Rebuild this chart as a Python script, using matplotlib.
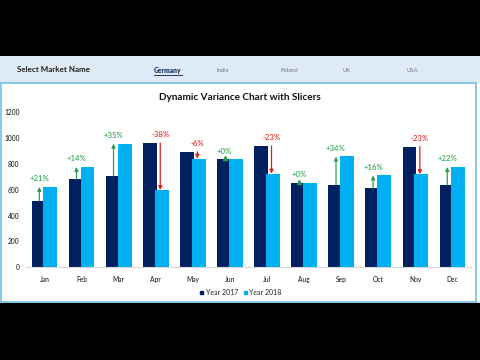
import matplotlib
matplotlib.use("Agg")
import matplotlib.pyplot as plt
from matplotlib.patches import Rectangle, Patch

plt.rcParams['font.family'] = ['Lato', 'DejaVu Sans']

months = ["Jan", "Feb", "Mar", "Apr", "May", "Jun", "Jul", "Aug", "Sep", "Oct", "Nov", "Dec"]
year2017 = [513, 681, 707, 962, 893, 835, 939, 655, 640, 612, 934, 637]
year2018 = [622, 777, 957, 598, 841, 835, 725, 655, 858, 711, 721, 777]
markets = ["Germany", "India", "Poland", "UK", "USA"]
selected_market = "Germany"
yticks = [0, 200, 400, 600, 800, 1000, 1200]

C17 = "#002060"
C18 = "#00B0F0"
GREEN = "#2BA050"
RED = "#E0201B"

W, H = 480, 360
fig = plt.figure(figsize=(4.8, 3.6), dpi=100)
fig.patch.set_facecolor("white")

def fx(px):
    return px / W

def fy(py):
    return 1 - py / H

# black letterbox
fig.patches.append(Rectangle((0, fy(56)), 1, 1 - fy(56), transform=fig.transFigure, color="black", zorder=-10))
fig.patches.append(Rectangle((0, 0), 1, fy(302.5), transform=fig.transFigure, color="black", zorder=-10))
# header band
fig.patches.append(Rectangle((0, fy(82.5)), 1, fy(56) - fy(82.5), transform=fig.transFigure,
                             facecolor="#DEEBF7", edgecolor="none", zorder=-10))
# chart border
fig.patches.append(Rectangle((fx(1), fy(302)), fx(475), fy(83) - fy(302), transform=fig.transFigure,
                             facecolor="white", edgecolor="#7CC3E8", lw=1.3, zorder=-9))

# header texts
fig.text(fx(17), fy(69), "Select Market Name", fontsize=5.8, fontweight="bold", color="#222222",
         ha="left", va="center")
mk_x = [168, 223, 289, 347, 412]
for name, x in zip(markets, mk_x):
    if name == selected_market:
        fig.text(fx(x), fy(70.5), name, fontsize=4.8, fontweight="heavy", color="#1F3864",
                 ha="center", va="center")
        fig.lines.append(plt.Line2D([fx(x - 14), fx(x + 14)], [fy(74.5), fy(74.5)],
                                    transform=fig.transFigure, color="#1F3864", lw=0.7))
    else:
        fig.text(fx(x), fy(70.5), name, fontsize=4.2, color="#777777", ha="center", va="center")

# title
fig.text(fx(240), fy(97), "Dynamic Variance Chart with Slicers", fontsize=7.2, fontweight="bold",
         color="#111111", ha="center", va="center")

ax = fig.add_axes([fx(26), fy(267.3), fx(471) - fx(26), fy(112.3) - fy(267.3)])
ax.set_facecolor("none")
x = list(range(len(months)))
w = 0.375
off = 0.1575
ax.bar([i - off for i in x], year2017, width=w, color=C17, zorder=2)
ax.bar([i + off for i in x], year2018, width=w, color=C18, zorder=3)

for i, (a, b) in enumerate(zip(year2017, year2018)):
    pct = (b - a) / a * 100
    r = round(pct)
    up = r >= 0
    col = GREEN if up else RED
    label = ("+%d%%" % r) if up else ("%d%%" % r)
    xa = i - 0.14 if up else i + 0.12
    if abs(b - a) > 5:
        ax.annotate("", xy=(xa, b), xytext=(xa, a),
                    arrowprops=dict(arrowstyle="-|>", color=col, lw=0.9, mutation_scale=5.5,
                                    shrinkA=0, shrinkB=0), zorder=4)
    else:
        ax.plot([xa], [b + 8], marker="^", ms=3, color=col, zorder=4)
    ax.annotate(label, xy=(xa, max(a, b)), xytext=(0, 6), textcoords="offset points",
                ha="center", va="center", fontsize=5.6, fontweight="medium", color=col, zorder=5)

ax.set_xlim(-0.5, len(months) - 0.5)
ax.set_ylim(0, 1200)
ax.set_yticks(yticks)
ax.set_yticklabels([str(v) for v in yticks], fontsize=4.8, color="#222222", fontweight="medium")
ax.set_xticks(x)
ax.set_xticklabels(months, fontsize=4.8, color="#222222", fontweight="medium")
ax.tick_params(length=0, pad=6)
ax.tick_params(axis="y", pad=4.5)
for s in ["top", "right", "left"]:
    ax.spines[s].set_visible(False)
ax.spines["bottom"].set_color("#D9D9D9")
ax.spines["bottom"].set_linewidth(0.8)

handles = [Patch(color=C17, label="Year 2017"), Patch(color=C18, label="Year 2018")]
fig.legend(handles=handles, loc="center", bbox_to_anchor=(fx(241), fy(292.5)), ncol=2,
           frameon=False, fontsize=5, handlelength=0.45, handleheight=0.45,
           handletextpad=0.3, columnspacing=0.9, labelcolor="#222222")

fig.savefig("out.png", dpi=100)
